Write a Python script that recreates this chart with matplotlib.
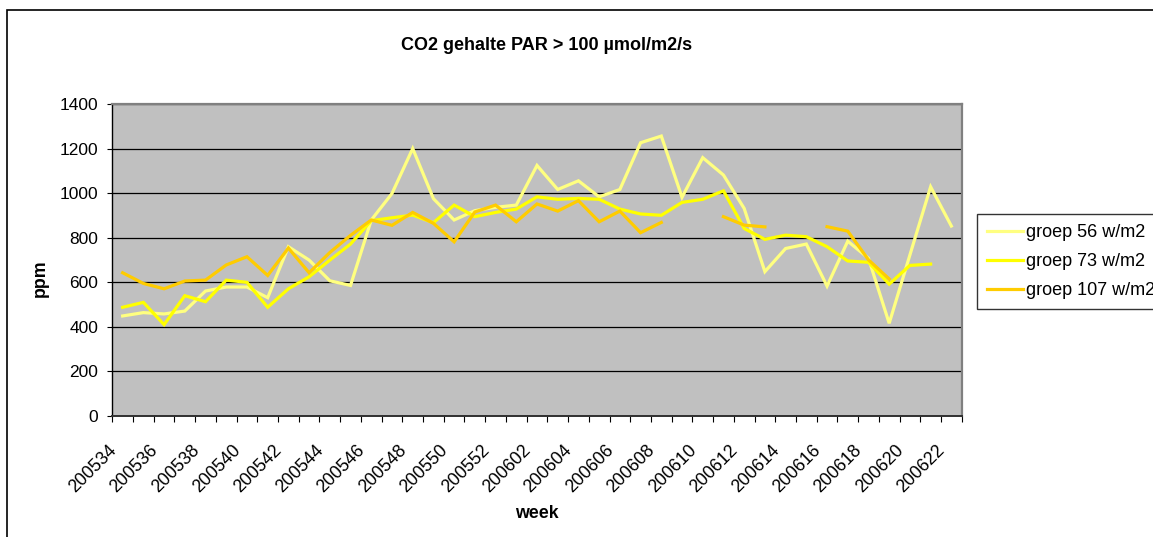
import numpy as np
import matplotlib
matplotlib.use("Agg")
import matplotlib.pyplot as plt
from matplotlib.patches import Rectangle
from matplotlib.transforms import ScaledTranslation

# weeks 2005-34 .. 2006-22
weeks = [f"2005{w:02d}" for w in range(34, 53)] + [f"2006{w:02d}" for w in range(1, 23)]

nan = np.nan
groep56 = [448, 463, 457, 470, 560, 578, 578, 530, 759, 699, 606, 585, 879, 998,
           1200, 975, 879, 921, 936, 946, 1124, 1016, 1055, 983, 1016, 1226, 1256,
           981, 1159, 1081, 931, 647, 751, 771, 582, 784, 707, 415, 722, 1028, 852]
groep73 = [487, 509, 409, 539, 512, 609, 599, 487, 570, 624, 699, 771, 876, 889,
           901, 867, 946, 894, 913, 928, 983, 972, 976, 972, 928, 906, 900,
           958, 972, 1010, 841, 792, 811, 804, 759, 695, 689, 591, 675, 681, nan]
groep107 = [642, 594, 570, 605, 609, 677, 714, 630, 753, 642, 733, 810, 879, 855,
            913, 864, 781, 915, 946, 871, 951, 919, 966, 871, 919, 822, 868,
            nan, nan, 894, 856, 848, nan, nan, 849, 829, 700, 614, nan, nan, nan]

series = [("groep 56 w/m2", groep56, "#FFFF80"),
          ("groep 73 w/m2", groep73, "#FFFF00"),
          ("groep 107 w/m2", groep107, "#FFCC00")]

plt.rcParams["font.family"] = ["Liberation Sans", "DejaVu Sans"]

W, H = 1153, 537
fig = plt.figure(figsize=(W / 100, H / 100), dpi=100)
ax = fig.add_axes([112.3 / W, 1 - 415.7 / H, (961.7 - 112.3) / W, (415.7 - 104) / H])

# chart border (runs off the right and bottom edge like the screenshot)
fig.patches.append(Rectangle((7 / W, -0.1), 1.2, 1 - 10 / H + 0.1, transform=fig.transFigure,
                             fill=False, edgecolor="black", lw=1.2))

x = np.arange(len(weeks))
for name, vals, col in series:
    ax.plot(x, vals, color=col, lw=2.3, label=name, solid_joinstyle="miter")

ax.set_facecolor("#C0C0C0")
ax.set_xlim(-0.5, len(weeks) - 0.5)
ax.set_ylim(0, 1400)
ax.set_yticks(np.arange(0, 1401, 200))
ax.yaxis.grid(True, color="black", lw=0.9)
ax.set_axisbelow(True)

for s in ["top", "right"]:
    ax.spines[s].set_color("#808080")
    ax.spines[s].set_linewidth(1.6)
ax.spines["left"].set_color("black")
ax.spines["bottom"].set_color("#303030")
ax.spines["left"].set_linewidth(1.0)
ax.spines["bottom"].set_linewidth(1.4)

ax.tick_params(axis="y", length=3.6, width=0.8, pad=6.5, labelsize=12.5)
ax.set_xticks(x[::2])
ax.set_xticklabels(weeks[::2], rotation=45, ha="right", va="top", rotation_mode="anchor")
ax.set_xticks(np.arange(-0.5, len(weeks), 1), minor=True)
ax.tick_params(axis="x", which="major", length=0, pad=19, labelsize=12.8)
ax.tick_params(axis="x", which="minor", length=4.3, width=0.8)
for lab in ax.get_xticklabels():
    lab.set_transform(lab.get_transform() + ScaledTranslation(-15 / 100, 0, fig.dpi_scale_trans))

fig.text(547 / W, 1 - 45 / H, "CO2 gehalte PAR > 100 µmol/m2/s", fontsize=13,
         fontweight="bold", ha="center", va="center")
fig.text(537 / W, 1 - 513 / H, "week", fontsize=12.8, fontweight="bold", ha="center", va="center")
fig.text(40 / W, 1 - 278 / H, "ppm", fontsize=12.8, fontweight="bold", ha="center", va="center",
         rotation=90)

leg = fig.legend(loc="upper left", bbox_to_anchor=(977 / W, 1 - 214 / H), borderaxespad=0,
                 fontsize=13, frameon=True, fancybox=False, handlelength=2.0,
                 handletextpad=0.15, labelspacing=0.67, borderpad=0.55)
leg.get_frame().set_edgecolor("black")
leg.get_frame().set_linewidth(1.0)

fig.savefig("out.png", dpi=100)
